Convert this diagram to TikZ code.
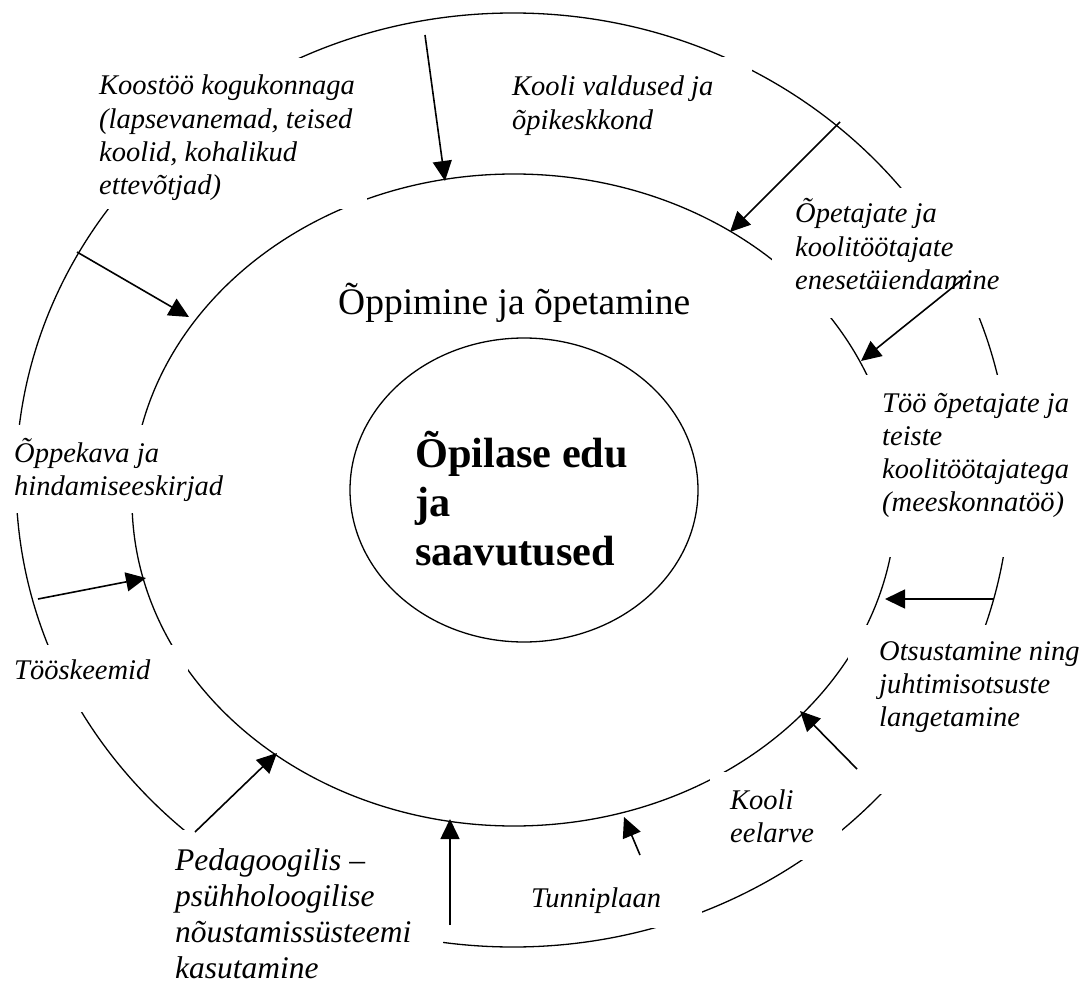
\documentclass[tikz,border=0pt]{standalone}
\usepackage{fontspec}
\setmainfont{Liberation Serif}
\usetikzlibrary{arrows.meta}
\newcommand{\txtlines}[1]{\vtop{\halign{##\hfil\cr#1\crcr}}}
\tikzset{
  ring/.style={line width=1.3pt},
  mask/.style={fill=white},
  itxt/.style={inner sep=0pt, anchor=base west, font=\itshape\fontsize{28.5}{33.3}\selectfont},
  bigitxt/.style={inner sep=0pt, anchor=base west, font=\itshape\fontsize{31.5}{36.3}\selectfont},
  midtxt/.style={inner sep=0pt, anchor=base west, font=\fontsize{37.5}{43}\selectfont},
  coretxt/.style={inner sep=0pt, anchor=base west, font=\bfseries\fontsize{42.3}{49}\selectfont},
  arr/.style={line width=1.6pt, -{Triangle[length=20pt,width=19pt]}},
}
\begin{document}
\begin{tikzpicture}[x=1pt,y=-1pt]
\useasboundingbox (0,0) rectangle (1087,987);
% rings
\draw[ring] (513,480) ellipse [x radius=497pt, y radius=467pt];
\draw[ring] (514,500) ellipse [x radius=382pt, y radius=326pt];
\draw[ring] (524,490) ellipse [x radius=174pt, y radius=152pt];
% white text-box areas that break the rings
\fill[mask] (88,58) rectangle (367,209);
\fill[mask] (498,57) rectangle (752,140);
\fill[mask] (772,188) rectangle (1020,318);
\fill[mask] (860,375) rectangle (1087,557);
\fill[mask] (848,625) rectangle (1087,794);
\fill[mask] (710,772) rectangle (842,860);
\fill[mask] (520,855) rectangle (702,928);
\fill[mask] (165,830) rectangle (443,987);
\fill[mask] (0,645) rectangle (188,712);
\fill[mask] (0,425) rectangle (230,513);
% texts
\node[itxt] (tKoostoo) at (99,95) {\txtlines{Koostöö kogukonnaga\cr(lapsevanemad, teised\cr koolid, kohalikud\cr ettevõtjad)}};
\node[itxt] (tValdused) at (512,96) {\txtlines{Kooli valdused ja\cr õpikeskkond}};
\node[itxt] (tOpetajate) at (795,223) {\txtlines{Õpetajate ja\cr koolitöötajate\cr enesetäiendamine}};
\node[itxt] (tToo) at (882,412) {\txtlines{Töö õpetajate ja\cr teiste\cr koolitöötajatega\cr(meeskonnatöö)}};
\node[itxt] (tOtsus) at (879,660) {\txtlines{Otsustamine ning\cr juhtimisotsuste\cr langetamine}};
\node[itxt] (tEelarve) at (730,809) {\txtlines{Kooli\cr eelarve}};
\node[itxt] (tTunni) at (531,907) {Tunniplaan};
\node[bigitxt] (tPedag) at (175,870) {\txtlines{Pedagoogilis –\cr psühholoogilise\cr nõustamissüsteemi\cr kasutamine}};
\node[itxt] (tSkeem) at (14,679) {Tööskeemid};
\node[itxt] (tOppekava) at (14,462) {\txtlines{Õppekava ja\cr hindamiseeskirjad}};
\node[midtxt] (tMid) at (338,314) {Õppimine ja õpetamine};
\node[coretxt] (tCore) at (415,467) {\txtlines{Õpilase edu\cr ja\cr saavutused}};
% arrow end points
\coordinate (s1) at (425,35);   \coordinate (e1) at (445,181);
\coordinate (s2) at (840,122);  \coordinate (e2) at (730,232);
\coordinate (s3) at (968,275);  \coordinate (e3) at (861,361);
\coordinate (s4) at (994,599);  \coordinate (e4) at (885,599);
\coordinate (s5) at (857,769);  \coordinate (e5) at (800,711);
\coordinate (s6) at (640,855);  \coordinate (e6) at (624,817);
\coordinate (s7) at (450,925);  \coordinate (e7) at (450,819);
\coordinate (s8) at (195,832);  \coordinate (e8) at (277,753);
\coordinate (s9) at (38,599);   \coordinate (e9) at (146,578);
\coordinate (s10) at (77,252);  \coordinate (e10) at (189,317);
\foreach \i in {1,...,10} {\draw[arr] (s\i) -- (e\i);}
\end{tikzpicture}
\end{document}
